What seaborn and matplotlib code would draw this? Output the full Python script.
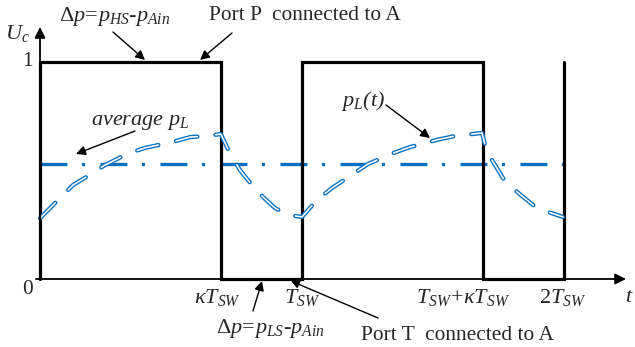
import matplotlib
matplotlib.use("Agg")
import matplotlib.pyplot as plt
import seaborn as sns

# Valve command U_c: switching instants (in units of T_SW) and levels
switch_times = [0.0, 0.0, 0.69, 1.0, 1.69, 2.0]
switch_levels = [0, 1, 0, 1, 0, 1]

# Load pressure p_L(t) (normalised) over two switching periods
pl_time = [0.000, 0.069, 0.126, 0.190, 0.248, 0.332, 0.400, 0.504, 0.573, 0.637, 0.690,
           0.725, 0.763, 0.809, 0.851, 0.897, 0.947, 1.000,
           1.057, 1.114, 1.195, 1.252, 1.348, 1.412, 1.515, 1.584, 1.687,
           1.706, 1.737, 1.767, 1.800, 1.840, 1.882, 1.939, 1.996]
pl_value = [0.280, 0.364, 0.433, 0.480, 0.525, 0.576, 0.604, 0.631, 0.654, 0.659, 0.668,
            0.580, 0.502, 0.433, 0.378, 0.327, 0.295, 0.286,
            0.364, 0.419, 0.484, 0.530, 0.580, 0.608, 0.641, 0.659, 0.673,
            0.585, 0.525, 0.465, 0.424, 0.382, 0.341, 0.309, 0.286]

# Average load pressure
avg_time = [0.0, 2.0]
avg_value = [0.53, 0.53]

# Time-axis labels
tick_labels = [r"$\kappa T_{SW}$", r"$T_{SW}$", r"$T_{SW}\!+\!\kappa T_{SW}$", r"$2T_{SW}$"]

sns.set_style("white")
plt.rcParams["font.family"] = ["Liberation Serif", "DejaVu Serif"]
plt.rcParams["mathtext.fontset"] = "custom"
plt.rcParams["mathtext.rm"] = "Liberation Serif"
plt.rcParams["mathtext.it"] = "Liberation Serif:italic"
plt.rcParams["mathtext.bf"] = "Liberation Serif:bold"
plt.rcParams["lines.scale_dashes"] = False

BLUE = "#0870c0"

fig = plt.figure(figsize=(6.35, 3.47), dpi=100)
ax = fig.add_axes([0, 0, 1, 1])
ax.set_axis_off()

# pixel layout -> data coordinates (origin at 40,279; T_SW = 262 px; unit level = 217 px)
def P(x, y):
    return ((x - 40) / 262.0, (279 - y) / 217.0)

x0, y0 = P(0, 347)
x1, y1 = P(635, 0)
ax.set_xlim(x0, x1)
ax.set_ylim(y0, y1)

arrow_kw = dict(arrowstyle="-|>", color="k", lw=1.3, shrinkA=0, shrinkB=0, mutation_scale=16)
thin_kw = dict(arrow_kw, lw=1.0, mutation_scale=14)

# coordinate axes
ax.annotate("", xy=P(40, 27), xytext=P(40, 280), arrowprops=arrow_kw)
ax.annotate("", xy=P(626, 279), xytext=P(36, 279), arrowprops=arrow_kw)

# average load pressure (dash-dot)
sns.lineplot(x=avg_time, y=avg_value, ax=ax, color=BLUE, lw=2.4,
             estimator=None, sort=False, legend=False)
ln = ax.lines[-1]
ln.set_linestyle((0, (19.4, 10.4, 2.2, 11.2)))
ln.set_dash_capstyle("butt")

# square-wave valve command
sns.lineplot(x=switch_times, y=switch_levels, ax=ax, color="k", lw=2.3,
             estimator=None, sort=False, legend=False, drawstyle="steps-post")
ax.lines[-1].set_solid_joinstyle("miter")

# p_L(t): hollow dashes (blue outline, white core)
for lw, col in [(3.1, BLUE), (1.15, "white")]:
    sns.lineplot(x=pl_time, y=pl_value, ax=ax, color=col, lw=lw,
                 estimator=None, sort=False, legend=False)
    ln = ax.lines[-1]
    ln.set_linestyle((0, (15.7, 13.1)))
    ln.set_dash_capstyle("round")

fs = 15.4   # upright text
fm = 16     # italic / math labels

# axis labels
ax.text(*P(17, 33), r"$U_c$", fontsize=fm, ha="center", va="center")
ax.text(*P(27, 62), "1", fontsize=fs, ha="center", va="center")
ax.text(*P(27, 290), "0", fontsize=fs, ha="center", va="center")
ax.text(*P(629, 298), r"$t$", fontsize=fm, ha="center", va="center")

tick_px = [217, 302, 463, 563]
for px_, lab in zip(tick_px, tick_labels):
    ax.text(*P(px_, 298), lab, fontsize=fm, ha="center", va="center")

# annotations
ax.text(*P(115, 17), r"$\mathit{\Delta} p\!=\!p_{HS}$-$p_{Ain}$", fontsize=fm, ha="center",
        va="center", fontstyle="italic")
ax.annotate("", xy=P(145, 60), xytext=P(113, 32), arrowprops=thin_kw)

ax.text(*P(305, 16), "Port P  connected to A", fontsize=fs, ha="center", va="center")
ax.annotate("", xy=P(200, 60), xytext=P(232, 33), arrowprops=thin_kw)

ax.text(*P(140, 123), r"$average\ p_L$", fontsize=fm, ha="center", va="center")
ax.annotate("", xy=P(76, 154), xytext=P(135, 131), arrowprops=thin_kw)

ax.text(*P(363, 101), r"$p_L$(t)", fontsize=fm, ha="center", va="center", fontstyle="italic")
ax.annotate("", xy=P(430, 138), xytext=P(386, 105), arrowprops=thin_kw)

ax.text(*P(270, 329), r"$\mathit{\Delta} p\!=\!p_{LS}$-$p_{Ain}$", fontsize=fm, ha="center",
        va="center", fontstyle="italic")
ax.annotate("", xy=P(262, 281), xytext=P(253, 311), arrowprops=thin_kw)

ax.text(*P(457, 335), "Port T  connected to A", fontsize=fs, ha="center", va="center")
ax.annotate("", xy=P(291, 281), xytext=P(378, 318), arrowprops=dict(thin_kw, mutation_scale=12))

fig.savefig("out.png", dpi=100)
